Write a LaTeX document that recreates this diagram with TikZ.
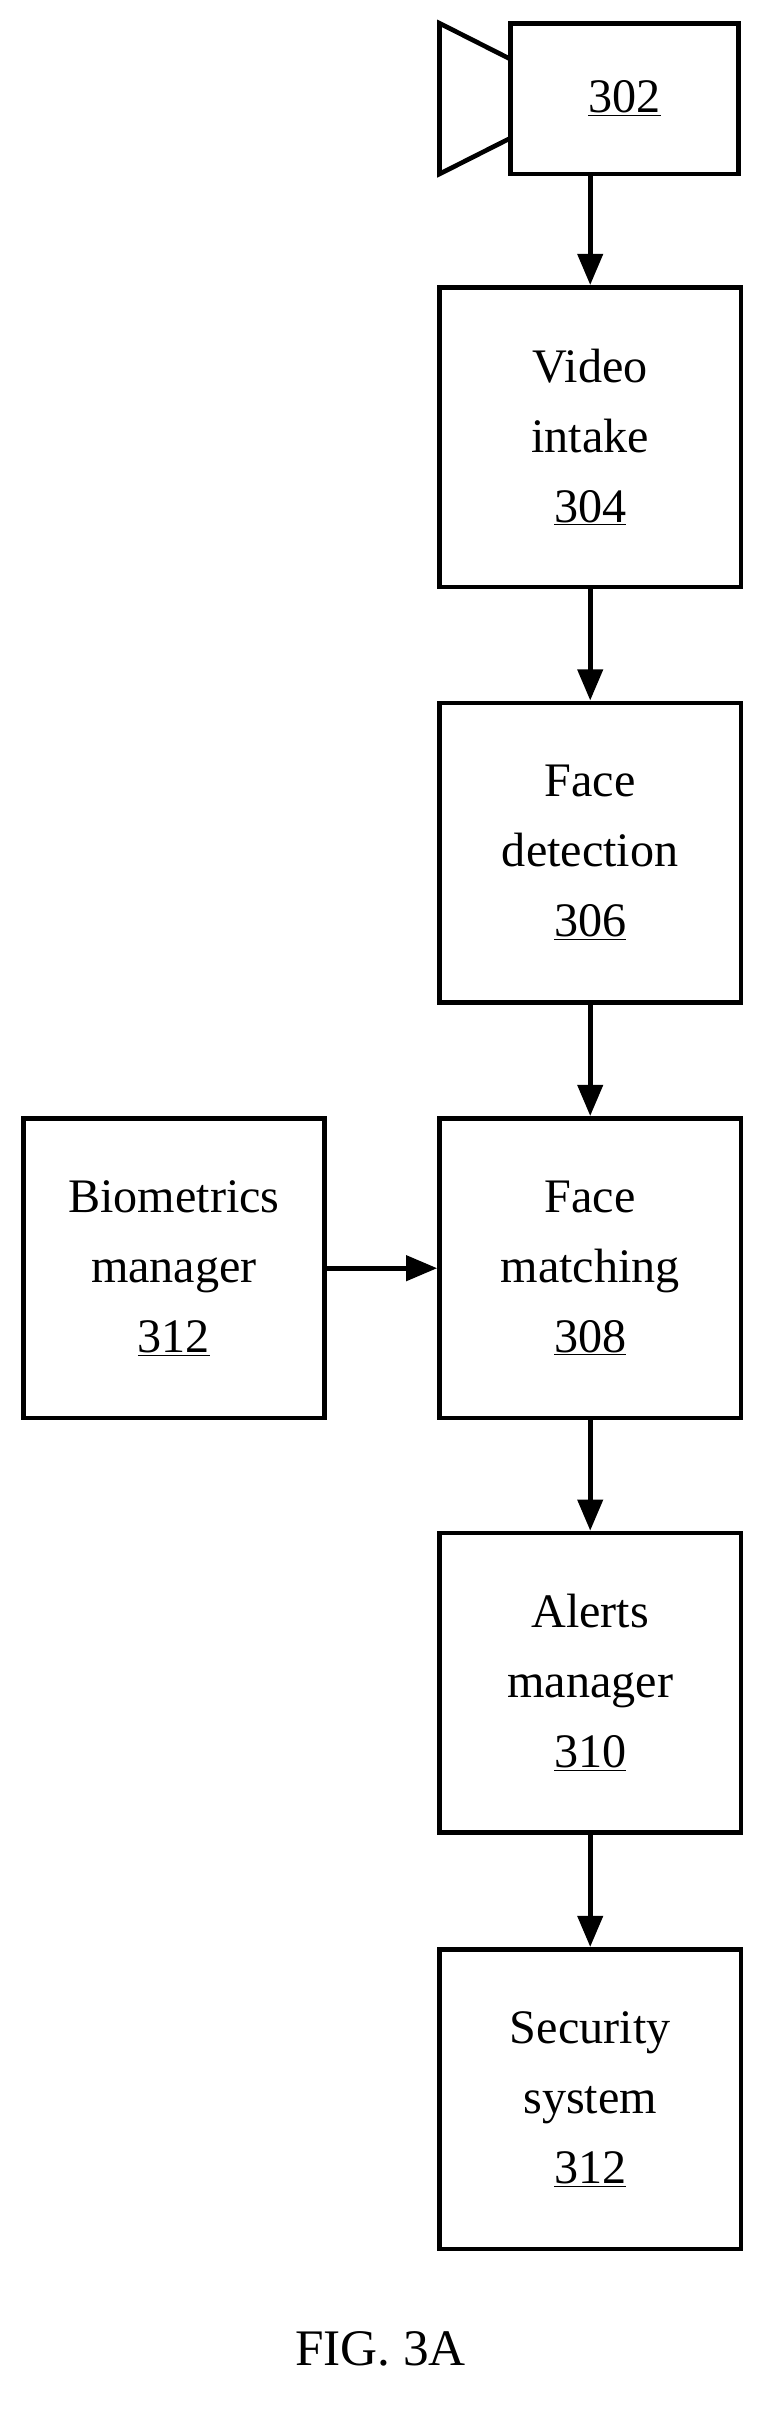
\documentclass[tikz,border=0pt]{standalone}
\usepackage{fontspec}
\setmainfont{Liberation Serif}
\usetikzlibrary{arrows.meta}
\begin{document}
\begin{tikzpicture}[x=1pt,y=-1pt,line width=3pt,
 box/.style={draw,minimum width=194pt,minimum height=193pt,align=center,inner sep=0pt,font=\fontsize{31}{45}\selectfont},
 arr/.style={-{Triangle[length=20pt,width=16pt]}}]
\useasboundingbox (0,0) rectangle (490,1560);
\node[draw,minimum width=147pt,minimum height=97pt,inner sep=0pt,font=\fontsize{31}{45}\selectfont] (cam) at (402,63.5) {\underline{302}};
\draw[line join=miter] (328.5,38) -- (283,15) -- (283,112) -- (328.5,89);
\node[box] (v) at (380,281.5) {Video\\intake\\\underline{304}};
\node[box] (d) at (380,549) {Face\\detection\\\underline{306}};
\node[box] (m) at (380,816.5) {Face\\matching\\\underline{308}};
\node[box] (b) at (112,816.5) {Biometrics\\manager\\\underline{312}};
\node[box] (a) at (380,1083.5) {Alerts\\manager\\\underline{310}};
\node[box] (s) at (380,1351.5) {Security\\system\\\underline{312}};
\draw[arr] (cam.south -| v.north) -- (v.north);
\draw[arr] (v) -- (d);
\draw[arr] (d) -- (m);
\draw[arr] (b) -- (m);
\draw[arr] (m) -- (a);
\draw[arr] (a) -- (s);
\node[font=\fontsize{33}{40}\selectfont] (f) at (245,1512) {FIG. 3A};
\end{tikzpicture}
\end{document}
